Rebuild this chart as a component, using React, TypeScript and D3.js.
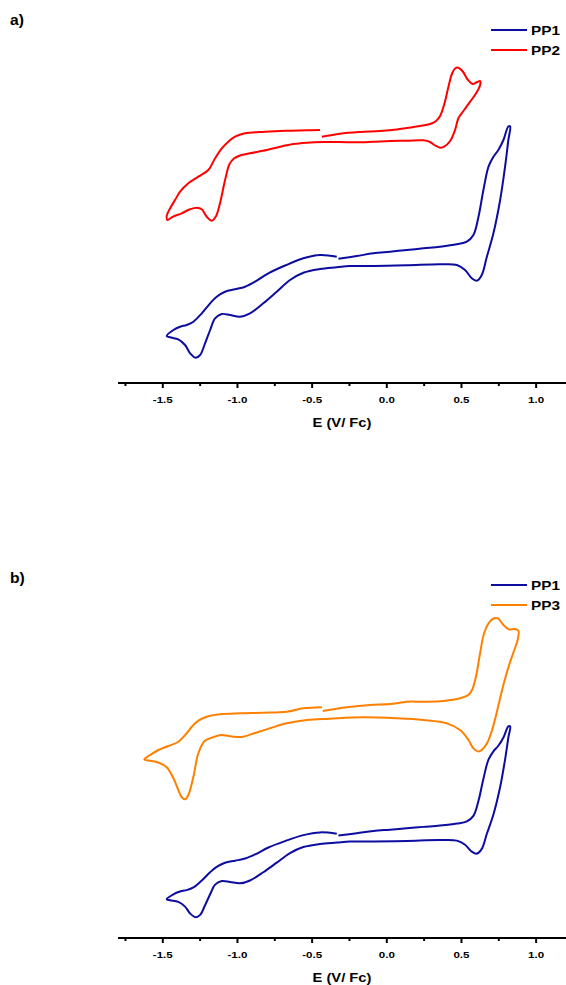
import React from "react";
import * as d3 from "d3";

// Potentials in V vs Fc, currents in arbitrary units
const pp1Potential = [-0.324, -0.201, -0.09, 0.022, 0.134, 0.245, 0.357, 0.469, 0.536, 0.58, 0.614, 0.647, 0.681, 0.714, 0.747, 0.781, 0.814, 0.826, 0.814, 0.792, 0.759, 0.714, 0.67, 0.636, 0.603, 0.569, 0.524, 0.469, 0.357, 0.134, -0.09, -0.246, -0.335, -0.447, -0.559, -0.648, -0.737, -0.827, -0.916, -0.983, -1.05, -1.105, -1.15, -1.183, -1.217, -1.25, -1.281, -1.317, -1.351, -1.396, -1.451, -1.474, -1.429, -1.384, -1.34, -1.295, -1.239, -1.183, -1.139, -1.083, -1.016, -0.949, -0.882, -0.793, -0.681, -0.559, -0.447, -0.335];
const pp1Current = [12.43, 12.7, 12.97, 13.13, 13.3, 13.47, 13.63, 13.87, 14.13, 14.8, 16.63, 19.3, 21.63, 22.63, 23.3, 24.3, 25.65, 25.65, 24.3, 21.63, 18.3, 14.97, 12.63, 10.8, 10.23, 10.47, 11.3, 11.8, 11.87, 11.77, 11.7, 11.7, 11.57, 11.4, 11.03, 10.3, 9.13, 7.97, 6.97, 6.63, 6.8, 6.9, 6.47, 5.3, 3.97, 2.8, 2.53, 2.97, 3.8, 4.37, 4.57, 4.7, 5.3, 5.63, 5.8, 6.13, 6.97, 7.97, 8.63, 9.13, 9.37, 9.63, 10.13, 10.97, 11.75, 12.47, 12.8, 12.63];

const pp2Potential = [-0.435, -0.313, -0.179, -0.045, 0.067, 0.134, 0.223, 0.29, 0.33, 0.357, 0.387, 0.414, 0.437, 0.457, 0.478, 0.509, 0.541, 0.575, 0.605, 0.625, 0.625, 0.598, 0.558, 0.513, 0.48, 0.457, 0.424, 0.384, 0.357, 0.324, 0.29, 0.245, 0.134, 0.022, -0.09, -0.201, -0.313, -0.425, -0.536, -0.626, -0.715, -0.804, -0.916, -0.983, -1.023, -1.053, -1.083, -1.117, -1.145, -1.172, -1.206, -1.239, -1.273, -1.317, -1.373, -1.44, -1.468, -1.474, -1.451, -1.418, -1.384, -1.329, -1.262, -1.195, -1.15, -1.105, -1.061, -1.016, -0.949, -0.815, -0.681, -0.536, -0.447];
const pp2Current = [24.63, 24.93, 25.1, 25.2, 25.35, 25.5, 25.7, 25.9, 26.2, 26.7, 28.0, 29.7, 30.95, 31.45, 31.53, 31.15, 30.35, 29.9, 30.1, 30.2, 29.8, 28.97, 28.13, 27.2, 26.5, 25.3, 24.2, 23.63, 23.53, 23.75, 24.1, 24.27, 24.23, 24.2, 24.13, 24.07, 24.1, 24.1, 24.03, 23.9, 23.63, 23.3, 22.97, 22.75, 22.45, 21.9, 20.3, 17.97, 16.65, 16.23, 16.63, 17.37, 17.53, 17.37, 16.97, 16.57, 16.3, 16.7, 17.47, 18.3, 19.13, 19.97, 20.63, 21.3, 22.47, 23.47, 24.13, 24.63, 24.97, 25.13, 25.23, 25.27, 25.3];

const pp3Potential = [-0.429, -0.268, -0.112, 0.022, 0.134, 0.245, 0.379, 0.491, 0.545, 0.571, 0.598, 0.625, 0.652, 0.685, 0.719, 0.745, 0.781, 0.819, 0.852, 0.881, 0.876, 0.849, 0.819, 0.786, 0.756, 0.732, 0.705, 0.672, 0.635, 0.612, 0.58, 0.547, 0.491, 0.402, 0.245, 0.067, -0.157, -0.38, -0.536, -0.67, -0.782, -0.882, -0.962, -1.036, -1.11, -1.172, -1.22, -1.262, -1.295, -1.329, -1.351, -1.374, -1.396, -1.429, -1.474, -1.53, -1.597, -1.624, -1.585, -1.53, -1.463, -1.396, -1.344, -1.304, -1.262, -1.206, -1.117, -0.983, -0.827, -0.67, -0.559, -0.435];
const pp3Current = [27.52, 27.96, 28.24, 28.36, 28.64, 28.64, 28.73, 29.05, 29.45, 30.06, 31.76, 34.55, 36.97, 38.24, 38.75, 38.73, 37.94, 37.39, 37.45, 37.27, 36.12, 34.67, 33.09, 31.03, 28.85, 27.03, 25.21, 23.64, 22.79, 22.61, 22.99, 24.0, 25.21, 26.02, 26.42, 26.63, 26.75, 26.58, 26.42, 26.02, 25.42, 24.85, 24.4, 24.42, 24.61, 24.28, 23.88, 22.39, 19.55, 17.33, 16.81, 17.09, 17.94, 19.36, 20.69, 21.27, 21.52, 21.66, 22.18, 22.79, 23.27, 23.79, 24.73, 25.64, 26.34, 26.82, 27.12, 27.24, 27.31, 27.43, 27.84, 27.96];

const xTicks = [-1.5, -1.0, -0.5, 0.0, 0.5, 1.0];
const xTickLabels = ["-1.5", "-1.0", "-0.5", "0.0", "0.5", "1.0"];
const xMinorTicks = [-1.75, -1.25, -0.75, -0.25, 0.25, 0.75];
const xDomain = [-1.8, 1.2];
const yDomain = [0, 36];

const BLUE = "#0c0ca0";
const RED = "#ff0000";
const ORANGE = "#ff8000";
const FONT = "'Liberation Sans', Arial, Helvetica, sans-serif";
const SX = 1.18;

type Series = { name: string; color: string; v: number[]; i: number[] };

const xScale = d3.scaleLinear().domain(xDomain).range([118, 566]);

function WideText({ x, y, size, anchor = "start", sx = SX, children }: { x: number; y: number; size: number; anchor?: string; sx?: number; children: React.ReactNode }) {
  return (
    <text
      transform={`translate(${x},${y}) scale(${sx},1)`}
      textAnchor={anchor}
      fontFamily={FONT}
      fontWeight="bold"
      fontSize={size}
      fill="#000"
    >
      {children}
    </text>
  );
}

function Panel({ label, labelY, axisY, yTop, series, legendY }: { label: string; labelY: number; axisY: number; yTop: number; series: Series[]; legendY: number }) {
  const yScale = d3.scaleLinear().domain(yDomain).range([axisY, yTop]);
  const line = d3
    .line<[number, number]>()
    .x((d) => xScale(d[0]))
    .y((d) => yScale(d[1]))
    .curve(d3.curveCatmullRom.alpha(0.5));
  return (
    <g>
      <WideText x={10} y={labelY} size={14} sx={1.12}>
        {label}
      </WideText>
      {series.map((s) => (
        <path
          key={s.name}
          d={line(s.v.map((v, k) => [v, s.i[k]] as [number, number])) || ""}
          fill="none"
          stroke={s.color}
          strokeWidth={2}
          strokeLinejoin="round"
        />
      ))}
      {series.map((s, k) => (
        <g key={s.name + "leg"}>
          <line x1={491} x2={527} y1={legendY + k * 20} y2={legendY + k * 20} stroke={s.color} strokeWidth={2} />
          <WideText x={531} y={legendY + k * 20 + 5} size={13}>
            {s.name}
          </WideText>
        </g>
      ))}
      <line x1={xScale.range()[0]} x2={xScale.range()[1]} y1={axisY} y2={axisY} stroke="#000" strokeWidth={2} />
      {xTicks.map((t, k) => (
        <g key={"t" + k}>
          <line x1={xScale(t)} x2={xScale(t)} y1={axisY} y2={axisY + 5} stroke="#000" strokeWidth={2} />
          <WideText x={xScale(t)} y={axisY + 20} size={9.8} anchor="middle">
            {xTickLabels[k]}
          </WideText>
        </g>
      ))}
      {xMinorTicks.map((t, k) => (
        <line key={"m" + k} x1={xScale(t)} x2={xScale(t)} y1={axisY} y2={axisY + 3} stroke="#000" strokeWidth={2} />
      ))}
      <WideText x={(xScale.range()[0] + xScale.range()[1]) / 2} y={axisY + 44} size={12.5} anchor="middle">
        E (V/ Fc)
      </WideText>
    </g>
  );
}

export default function App() {
  const seriesA: Series[] = [
    { name: "PP1", color: BLUE, v: pp1Potential, i: pp1Current },
    { name: "PP2", color: RED, v: pp2Potential, i: pp2Current },
  ];
  const seriesB: Series[] = [
    { name: "PP1", color: BLUE, v: pp1Potential, i: pp1Current },
    { name: "PP3", color: ORANGE, v: pp3Potential, i: pp3Current },
  ];
  return (
    <svg width={566} height={985} style={{ position: "absolute", left: 0, top: 0, background: "#fff" }}>
      <rect width={566} height={985} fill="#fff" />
      <Panel label="a)" labelY={25} axisY={383} yTop={23} series={seriesA} legendY={30} />
      <Panel label="b)" labelY={583} axisY={938} yTop={641} series={seriesB} legendY={585} />
    </svg>
  );
}
